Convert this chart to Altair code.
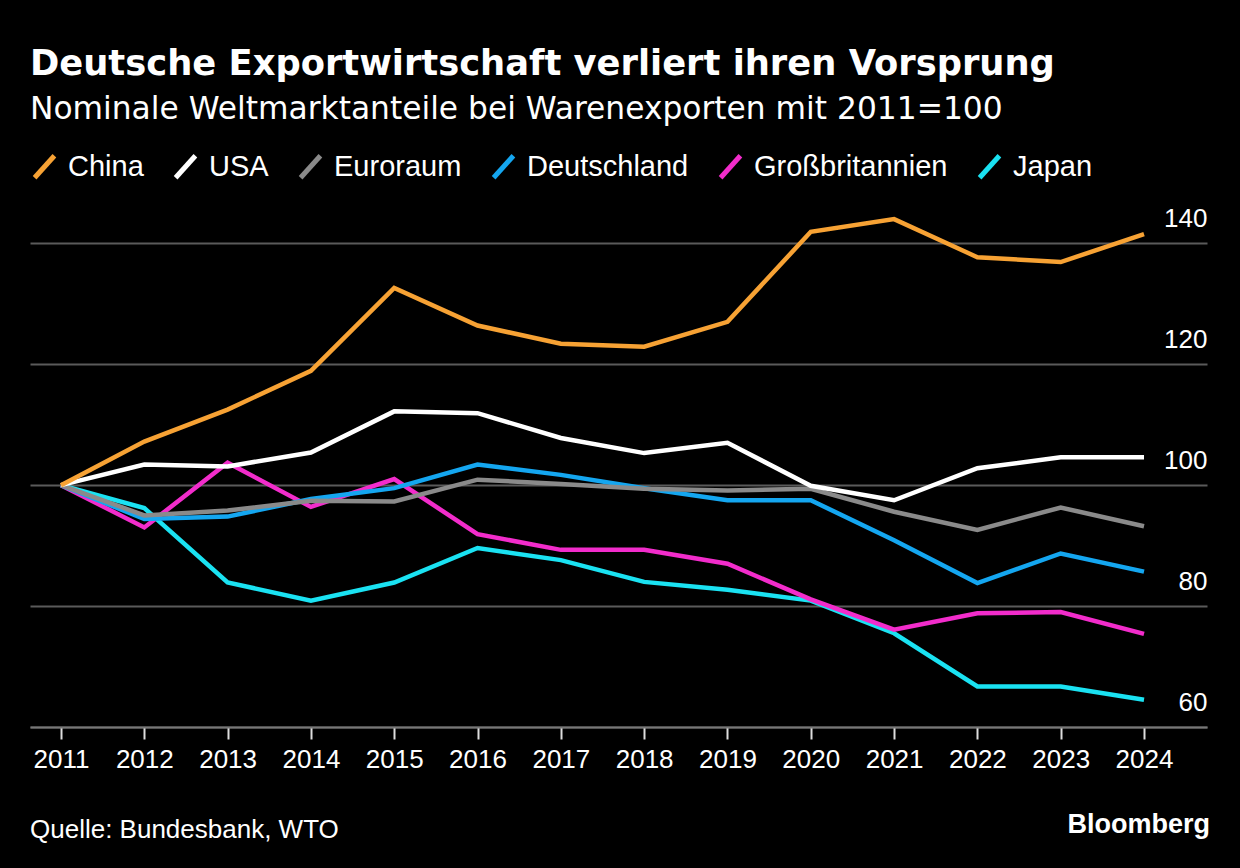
import altair as alt
import pandas as pd

# Years on the x axis
years = list(range(2011, 2025))

# Series, legend order and colours
series_names = ["China", "USA", "Euroraum", "Deutschland", "Großbritannien", "Japan"]
series_colors = ["#f7a234", "#ffffff", "#8a8a8a", "#14a6f0", "#f22ccb", "#1ae2f2"]

# Nominal world market shares in goods exports, index 2011 = 100
china = [100, 107.2, 112.5, 118.9, 132.6, 126.4, 123.4, 122.9, 127.0, 141.9, 144.0, 137.7, 136.9, 141.5]
usa = [100, 103.4, 103.1, 105.4, 112.2, 111.9, 107.8, 105.3, 107.0, 99.9, 97.5, 102.8, 104.6, 104.6]
euroraum = [100, 95.0, 95.8, 97.4, 97.3, 100.9, 100.2, 99.4, 99.1, 99.4, 95.6, 92.6, 96.3, 93.2]
deutschland = [100, 94.4, 94.8, 97.7, 99.5, 103.4, 101.7, 99.5, 97.5, 97.5, 90.9, 83.8, 88.7, 85.7]
grossbritannien = [100, 93.0, 103.7, 96.4, 101.0, 91.9, 89.3, 89.3, 87.0, 81.1, 76.1, 78.8, 79.0, 75.4]
japan = [100, 96.2, 83.9, 80.9, 83.9, 89.6, 87.6, 84.0, 82.7, 80.9, 75.5, 66.7, 66.7, 64.5]

y_ticks = [60, 80, 100, 120, 140]

title_text = "Deutsche Exportwirtschaft verliert ihren Vorsprung"
subtitle_text = "Nominale Weltmarktanteile bei Warenexporten mit 2011=100"
source_text = "Quelle: Bundesbank, WTO"
brand_text = "Bloomberg"

series_values = {
    "China": china,
    "USA": usa,
    "Euroraum": euroraum,
    "Deutschland": deutschland,
    "Großbritannien": grossbritannien,
    "Japan": japan,
}

# Long table; Japan first so China is drawn on top
rows = []
for name in reversed(series_names):
    for yr, v in zip(years, series_values[name]):
        rows.append({"year": yr, "value": v, "series": name})
df = pd.DataFrame(rows)

W, H = 1177, 520
SMALL_FONT = "Liberation Sans"

lines = alt.Chart(df).mark_line(strokeWidth=4.5).encode(
    x=alt.X(
        "year:Q",
        scale=alt.Scale(domain=[2010.628, 2024.756], nice=False, zero=False),
        axis=alt.Axis(
            values=years,
            format="d",
            title=None,
            grid=False,
            domain=True,
            domainColor="#777777",
            domainWidth=2,
            ticks=True,
            tickColor="#dddddd",
            tickWidth=2,
            tickSize=12,
            labelPadding=7,
            labelFont=SMALL_FONT,
            labelFontSize=26,
            labelColor="#ffffff",
        ),
    ),
    y=alt.Y(
        "value:Q",
        scale=alt.Scale(domain=[60, 146], nice=False, zero=False),
        axis=alt.Axis(
            orient="right",
            values=y_ticks,
            title=None,
            domain=False,
            ticks=False,
            tickSize=0,
            grid=True,
            gridColor="#5a5a5a",
            gridWidth=2,
            labelAlign="right",
            labelBaseline="alphabetic",
            labelPadding=0,
            labelOffset=-17,
            labelFont=SMALL_FONT,
            labelFontSize=26,
            labelColor="#ffffff",
        ),
    ),
    color=alt.Color(
        "series:N",
        scale=alt.Scale(domain=series_names, range=series_colors),
        legend=alt.Legend(
            title=None,
            orient="none",
            legendX=0,
            legendY=-55,
            direction="horizontal",
            columns=6,
            symbolType="M-0.9,1L0.9,-1",
            symbolSize=484,
            symbolStrokeWidth=5,
            labelFont=SMALL_FONT,
            labelFontSize=29,
            labelColor="#ffffff",
            labelOffset=9,
            labelLimit=400,
            columnPadding=21,
            padding=0,
        ),
    ),
)

source = alt.Chart(pd.DataFrame({"t": [source_text]})).mark_text(
    align="left", baseline="alphabetic", font=SMALL_FONT, fontSize=26, color="#ffffff"
).encode(x=alt.value(0), y=alt.value(631), text="t:N")

brand = alt.Chart(pd.DataFrame({"t": [brand_text]})).mark_text(
    align="right", baseline="alphabetic", font=SMALL_FONT, fontSize=27,
    fontWeight="bold", color="#ffffff"
).encode(x=alt.value(1180), y=alt.value(626), text="t:N")

chart = (
    alt.layer(lines, source, brand)
    .properties(
        width=W,
        height=H,
        autosize=alt.AutoSizeParams(type="none"),
        padding={"left": 30, "top": 207, "right": 33, "bottom": 141},
        background="#000000",
        title=alt.TitleParams(
            text=title_text,
            subtitle=subtitle_text,
            anchor="start",
            frame="group",
            orient="top",
            font="DejaVu Sans",
            fontSize=35.3,
            fontWeight="bold",
            color="#ffffff",
            subtitleFont="DejaVu Sans",
            subtitleFontSize=31.3,
            subtitleColor="#ffffff",
            subtitlePadding=11,
            offset=27,
        ),
    )
    .configure_view(stroke=None)
)

chart.save("out.html", embed_options={"renderer": "svg", "actions": False})
